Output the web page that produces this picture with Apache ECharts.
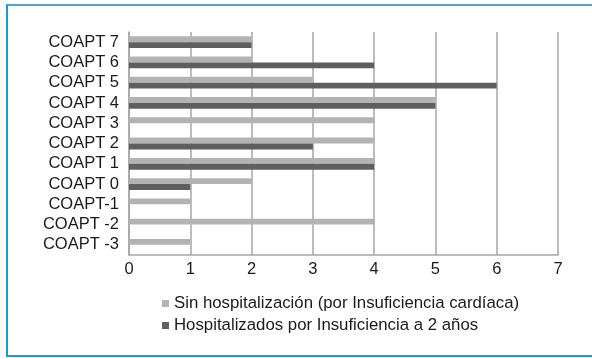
<!DOCTYPE html>
<html>
<head>
<meta charset="utf-8">
<script src="https://cdn.jsdelivr.net/npm/echarts@6/dist/echarts.min.js"></script>
<style>
  html, body { margin: 0; padding: 0; background: #fff; }
  #frame {
    position: absolute; left: 6px; top: 4px; width: 600px; height: 353px;
    border-left: 2px solid #1a9ad6; border-bottom: 2px solid #1a9ad6; border-top: 2px solid #4aa8d8;
    box-sizing: border-box;
  }
  #chart { position: absolute; left: 0; top: 0; width: 592px; height: 358px; }
</style>
</head>
<body>
<div id="frame"></div>
<div id="chart"></div>
<script>
// COAPT score categories, bottom to top
const categories = ['COAPT -3', 'COAPT -2', 'COAPT-1', 'COAPT 0', 'COAPT 1', 'COAPT 2', 'COAPT 3', 'COAPT 4', 'COAPT 5', 'COAPT 6', 'COAPT 7'];
const sinHospitalizacion = [1, 4, 1, 2, 4, 4, 4, 5, 3, 2, 2];
const hospitalizados = [0, 0, 0, 1, 4, 3, 0, 5, 6, 4, 2];
const seriesNames = ['Sin hospitalización (por Insuficiencia cardíaca)', 'Hospitalizados por Insuficiencia a 2 años'];

const font = 'Liberation Sans, Arial, sans-serif';
const chart = echarts.init(document.getElementById('chart'), null, { renderer: 'canvas' });
chart.setOption({
  animation: false,
  grid: { left: 129, top: 32, width: 429, height: 223, containLabel: false },
  legend: {
    orient: 'vertical', left: 157, top: 290, itemWidth: 7, itemHeight: 7, itemGap: 5,
    icon: 'rect',
    textStyle: { fontFamily: font, fontSize: 16.8, color: '#1a1a1a' },
    data: seriesNames
  },
  xAxis: {
    type: 'value', min: 0, max: 7, interval: 1,
    axisLine: { show: true, lineStyle: { color: '#a6a6a6', width: 1.5 } },
    axisTick: { show: false },
    splitLine: { show: true, lineStyle: { color: '#a6a6a6', width: 1.5 } },
    axisLabel: { fontFamily: font, fontSize: 16.5, color: '#1a1a1a', margin: 6 }
  },
  yAxis: {
    type: 'category', data: categories,
    axisLine: { show: true, lineStyle: { color: '#a6a6a6', width: 1.5 } },
    axisTick: { show: false },
    axisLabel: { fontFamily: font, fontSize: 16.5, color: '#1a1a1a', margin: 10, interval: 0 }
  },
  series: [
    { name: seriesNames[0], type: 'bar', data: sinHospitalizacion, itemStyle: { color: '#b3b3b3' }, barGap: '0%', barCategoryGap: '42%' },
    { name: seriesNames[1], type: 'bar', data: hospitalizados, itemStyle: { color: '#5f5f5f' }, barGap: '0%', barCategoryGap: '42%' }
  ]
});
</script>
</body>
</html>
